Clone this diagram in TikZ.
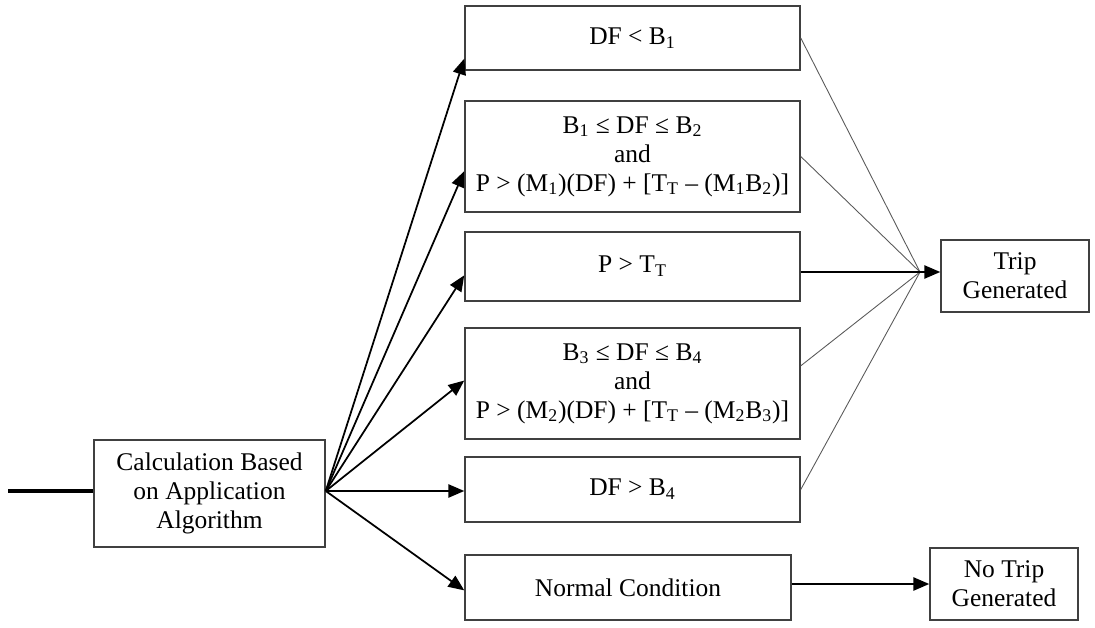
\documentclass[tikz,border=0pt]{standalone}
\usepackage{fontspec}
\setmainfont{Liberation Serif}
\usetikzlibrary{arrows.meta,positioning}

\begin{document}
\begin{tikzpicture}[x=0.02cm, y=-0.02cm,
  box/.style={draw=black!75, line width=0.9pt, fill=white, align=center, inner sep=2pt,
    font=\fontsize{14.5}{16.5}\selectfont},
  cond/.style={box, minimum width=6.7cm},
  result/.style={box, minimum width=2.96cm, minimum height=1.44cm},
  arr/.style={-{Triangle[length=9pt, width=7.5pt]}, line width=1pt},
  merge/.style={draw=black!65, line width=0.5pt}
]
\useasboundingbox (0,0) rectangle (1095,628);

%--- input ---
\node[box, minimum width=4.62cm, minimum height=2.14cm] (calc) at (209.5,493.5)
  {Calculation Based\\on Application\\Algorithm};
\coordinate (feed) at (8,491);
\draw[line width=2pt] (feed) -- (calc.west |- feed);

%--- conditions ---
\node[cond, minimum height=1.28cm] (lowdf) at (632.5,38) {DF < B\textsubscript{1}};
\node[cond, minimum height=2.22cm] (band1) at (632.5,156.5)
  {B\textsubscript{1} ≤ DF ≤ B\textsubscript{2}\\and\\P > (M\textsubscript{1})(DF) + [T\textsubscript{T} – (M\textsubscript{1}B\textsubscript{2})]};
\node[cond, minimum height=1.38cm] (ptrip) at (632.5,266.5) {P > T\textsubscript{T}};
\node[cond, minimum height=2.22cm] (band2) at (632.5,383.5)
  {B\textsubscript{3} ≤ DF ≤ B\textsubscript{4}\\and\\P > (M\textsubscript{2})(DF) + [T\textsubscript{T} – (M\textsubscript{2}B\textsubscript{3})]};
\node[cond, minimum height=1.3cm] (highdf) at (632.5,489.5) {DF > B\textsubscript{4}};
\node[box, minimum width=6.52cm, minimum height=1.3cm] (normal) at (628,587.5) {Normal Condition};

%--- outputs ---
\node[result] (trip) at (1015,276) {Trip\\Generated};
\node[result] (notrip) at (1004,584) {No Trip\\Generated};
\coordinate (join) at (920,272);
\coordinate (fork) at (calc.east |- feed);

% fan out
\draw[arr] (fork) -- (lowdf.187);
\draw[arr] (fork) -- (band1.185);
\draw[arr] (fork) -- (ptrip.183);
\draw[arr] (fork) -- (band2.179);
\draw[arr] (fork) -- (highdf.west |- fork);
\draw[arr] (fork) -- (normal.181);

% fan in
\draw[merge] (lowdf.east) -- (join);
\draw[merge] (band1.east) -- (join);
\draw[merge] (band2.6) -- (join);
\draw[merge] (highdf.east) -- (join);
\draw[arr] (ptrip.east |- join) -- (trip.west |- join);
\draw[arr] (normal.east |- notrip) -- (notrip.west);
\end{tikzpicture}
\end{document}
